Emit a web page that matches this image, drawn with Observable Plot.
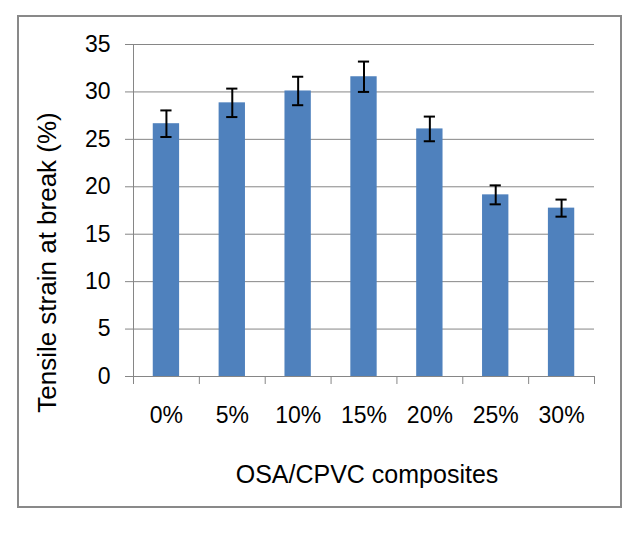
<!DOCTYPE html>
<html><head><meta charset="utf-8">
<script src="https://cdn.jsdelivr.net/npm/d3@7"></script>
<script src="https://cdn.jsdelivr.net/npm/@observablehq/plot@0.6"></script>
<style>
body{margin:0;background:#fff;}
#wrap{position:relative;width:639px;height:534px;overflow:hidden;}
#frame{position:absolute;left:17px;top:15px;width:605px;height:493px;border:2px solid #898989;box-sizing:border-box;pointer-events:none;}
</style></head><body><div id="wrap"><div id="chart"></div><div id="frame"></div></div>
<script>
const categories = ["0%", "5%", "10%", "15%", "20%", "25%", "30%"];
const values = [26.65, 28.85, 30.1, 31.6, 26.1, 19.15, 17.75];
const errors = [1.4, 1.5, 1.5, 1.6, 1.3, 1.0, 0.9];
const yTicks = [0, 5, 10, 15, 20, 25, 30, 35];
const yTitle = "Tensile strain at break (%)";
const xTitle = "OSA/CPVC composites";

const data = categories.map((c, i) => ({c, i, v: values[i], e: errors[i]}));
const font = "'Liberation Sans', Arial, sans-serif";
const gray = "#868686";
const barHalf = 0.2;   // bar = 40% of category width
const capHalf = 0.085;

const chart = Plot.plot({
  width: 639, height: 534,
  marginLeft: 133, marginRight: 45, marginTop: 44, marginBottom: 158,
  style: {fontFamily: font, background: "transparent", color: "black"},
  x: {type: "linear", domain: [0, categories.length], axis: null},
  y: {domain: [0, 35], axis: null},
  marks: [
    Plot.ruleY(yTicks, {stroke: gray, strokeWidth: 1}),
    Plot.axisY({ticks: yTicks, tickSize: 8, tickPadding: 15, stroke: gray, fill: "black", fontSize: 23, label: null}),
    Plot.axisX({ticks: d3.range(categories.length + 1), tickSize: 8, tickFormat: () => "", stroke: gray, label: null}),
    Plot.ruleX([0], {y1: 0, y2: 35, stroke: gray}),
    Plot.rectY(data, {x1: d => d.i + 0.5 - barHalf, x2: d => d.i + 0.5 + barHalf, y1: 0, y2: "v", fill: "#4F81BD"}),
    Plot.ruleX(data, {x: d => d.i + 0.5, y1: d => d.v - d.e, y2: d => d.v + d.e, stroke: "black", strokeWidth: 2}),
    Plot.ruleY(data, {y: d => d.v + d.e, x1: d => d.i + 0.5 - capHalf, x2: d => d.i + 0.5 + capHalf, stroke: "black", strokeWidth: 2}),
    Plot.ruleY(data, {y: d => d.v - d.e, x1: d => d.i + 0.5 - capHalf, x2: d => d.i + 0.5 + capHalf, stroke: "black", strokeWidth: 2}),
    Plot.text(data, {x: d => d.i + 0.5, text: "c", frameAnchor: "bottom", lineAnchor: "top", dy: 30, fontSize: 23, fill: "black"}),
    Plot.text([xTitle], {frameAnchor: "bottom", lineAnchor: "top", dy: 89, dx: 3, fontSize: 25, fill: "black"}),
    Plot.text([yTitle], {frameAnchor: "left", rotate: -90, textAnchor: "middle", lineAnchor: "middle", dx: -86, dy: 52, fontSize: 26, fill: "black"})
  ]
});
document.getElementById("chart").appendChild(chart);
</script></body></html>
